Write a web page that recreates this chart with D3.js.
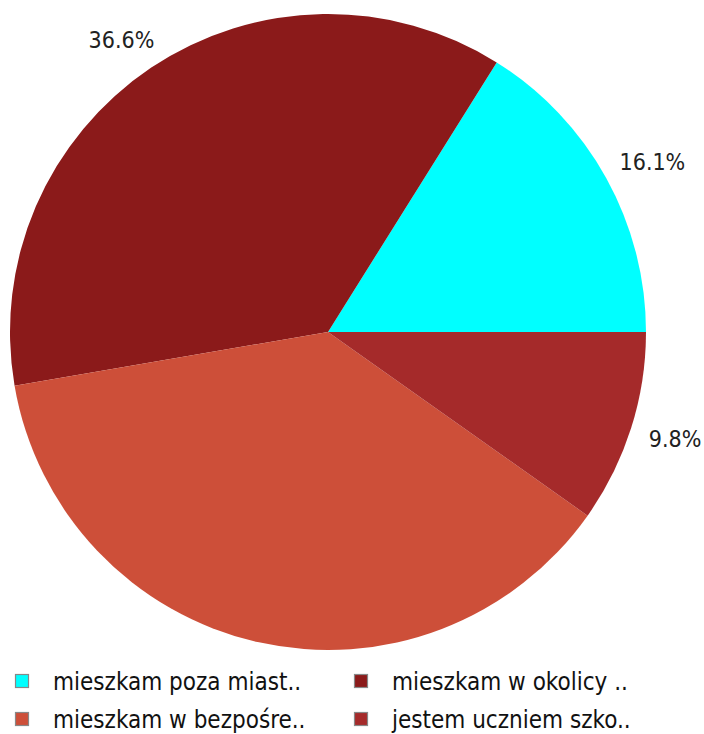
<!DOCTYPE html>
<html><head><meta charset="utf-8">
<script src="https://cdn.jsdelivr.net/npm/d3@7"></script>
<style>body{margin:0;background:#fff}svg{display:block}
text{font-family:"DejaVu Sans Condensed","DejaVu Sans",sans-serif;font-stretch:condensed}</style>
</head><body>
<svg id="c" width="704" height="734"></svg>
<script>
const categories = ["mieszkam poza miast..", "mieszkam w okolicy ..", "mieszkam w bezpośre..", "jestem uczniem szko.."];
const values = [16.1, 36.6, 37.5, 9.8];
const pctLabels = ["16.1%", "36.6%", "", "9.8%"];
const colors = ["#00FFFF", "#8B1A1A", "#CD4F39", "#A52A2A"];

const svg = d3.select("#c");
const cx = 328, cy = 332, R = 318, LR = 338, HH = 14;
const pie = d3.pie().sort(null).value(d => d).startAngle(Math.PI/2).endAngle(Math.PI/2 - 2*Math.PI);
const arcs = pie(values);
const arc = d3.arc().innerRadius(0).outerRadius(R);
const g = svg.append("g").attr("transform", `translate(${cx},${cy})`);
g.selectAll("path").data(arcs).join("path")
  .attr("d", arc).attr("fill", (d,i) => colors[i]);
g.selectAll("text").data(arcs).join("text")
  .attr("text-anchor", "middle").attr("dy", "0.36em")
  .attr("font-size", 23).attr("fill", "#222")
  .text((d,i) => pctLabels[i])
  .each(function(d) {
    const a = (d.startAngle + d.endAngle) / 2;
    const w = this.getComputedTextLength();
    const px = LR * Math.sin(a) + (w / 2) * Math.sin(a);
    const py = -LR * Math.cos(a) - HH * Math.cos(a);
    d3.select(this).attr("x", px).attr("y", py);
  });

const leg = svg.append("g");
const cols = [15, 354], rows = [681, 719];
categories.forEach((c, i) => {
  const x = cols[i % 2], y = rows[Math.floor(i / 2)];
  leg.append("rect").attr("x", x + 0.5).attr("y", y - 6.5).attr("width", 13).attr("height", 13)
    .attr("fill", colors[i]).attr("stroke", "#888").attr("stroke-width", 1.2);
  leg.append("text").attr("x", x + 38).attr("y", y).attr("dy", "0.36em")
    .attr("font-size", 24).attr("fill", "#111")
    .text(c);
});
</script>
</body></html>
